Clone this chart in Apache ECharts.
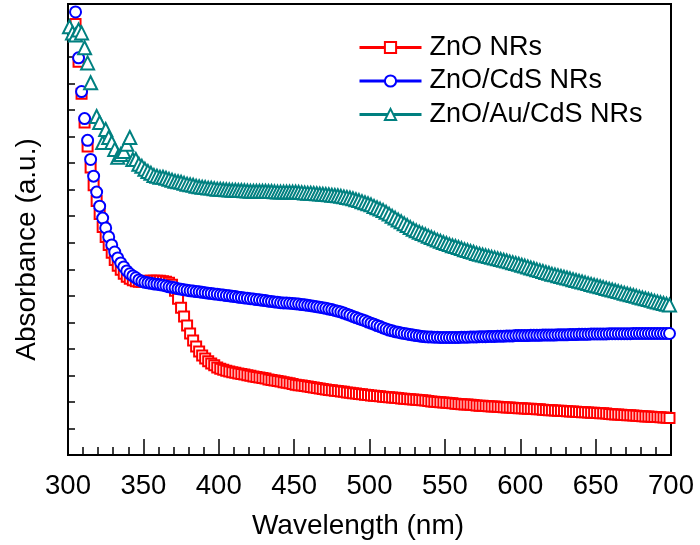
<!DOCTYPE html>
<html>
<head>
<meta charset="utf-8">
<script src="https://cdn.jsdelivr.net/npm/echarts@6/dist/echarts.min.js"></script>
<style>
  html, body { margin: 0; padding: 0; background: #fff; }
  #chart { width: 700px; height: 545px; }
</style>
</head>
<body>
<div id="chart"></div>
<script>
// wavelength grid (nm)
var wavelength = [
  301, 303, 305, 307, 309, 311, 313, 315, 317, 319,
  321, 323, 325, 327, 329, 331, 333, 335, 337, 339,
  341, 343, 345, 347, 349, 351, 353, 355, 357, 359,
  361, 363, 365, 367, 369, 371, 373, 375, 377, 379,
  381, 383, 385, 387, 389, 391, 393, 395, 397, 399,
  401, 403, 405, 407, 409, 411, 413, 415, 417, 419,
  421, 423, 425, 427, 429, 431, 433, 435, 437, 439,
  441, 443, 445, 447, 449, 451, 453, 455, 457, 459,
  461, 463, 465, 467, 469, 471, 473, 475, 477, 479,
  481, 483, 485, 487, 489, 491, 493, 495, 497, 499,
  501, 503, 505, 507, 509, 511, 513, 515, 517, 519,
  521, 523, 525, 527, 529, 531, 533, 535, 537, 539,
  541, 543, 545, 547, 549, 551, 553, 555, 557, 559,
  561, 563, 565, 567, 569, 571, 573, 575, 577, 579,
  581, 583, 585, 587, 589, 591, 593, 595, 597, 599,
  601, 603, 605, 607, 609, 611, 613, 615, 617, 619,
  621, 623, 625, 627, 629, 631, 633, 635, 637, 639,
  641, 643, 645, 647, 649, 651, 653, 655, 657, 659,
  661, 663, 665, 667, 669, 671, 673, 675, 677, 679,
  681, 683, 685, 687, 689, 691, 693, 695, 697, 699
];

// ZnO NRs
var znoAbs = [
  null, null, 1.625, 1.482, 1.362, 1.253, 1.163, 1.084, 1.017, 0.957,
  0.908, 0.859, 0.822, 0.792, 0.762, 0.735, 0.713, 0.698, 0.683, 0.672,
  0.664, 0.659, 0.655, 0.653, 0.653, 0.655, 0.657, 0.657, 0.657, 0.657,
  0.657, 0.655, 0.653, 0.649, 0.642, 0.619, 0.589, 0.555, 0.522, 0.488,
  0.458, 0.432, 0.409, 0.390, 0.375, 0.364, 0.353, 0.345, 0.338, 0.330,
  0.325, 0.321, 0.318, 0.315, 0.312, 0.310, 0.307, 0.305, 0.303, 0.301,
  0.299, 0.296, 0.294, 0.292, 0.290, 0.288, 0.285, 0.283, 0.281, 0.279,
  0.277, 0.274, 0.272, 0.270, 0.268, 0.265, 0.263, 0.262, 0.260, 0.258,
  0.256, 0.254, 0.253, 0.251, 0.249, 0.247, 0.245, 0.244, 0.242, 0.241,
  0.239, 0.238, 0.236, 0.235, 0.233, 0.232, 0.230, 0.229, 0.227, 0.226,
  0.224, 0.223, 0.222, 0.221, 0.220, 0.219, 0.218, 0.217, 0.216, 0.215,
  0.213, 0.212, 0.211, 0.210, 0.209, 0.208, 0.207, 0.206, 0.205, 0.204,
  0.202, 0.201, 0.200, 0.199, 0.198, 0.197, 0.196, 0.195, 0.193, 0.192,
  0.191, 0.190, 0.190, 0.189, 0.188, 0.187, 0.186, 0.186, 0.185, 0.184,
  0.183, 0.183, 0.182, 0.181, 0.180, 0.179, 0.179, 0.178, 0.177, 0.176,
  0.176, 0.175, 0.174, 0.174, 0.173, 0.172, 0.172, 0.171, 0.170, 0.169,
  0.169, 0.168, 0.167, 0.167, 0.166, 0.165, 0.164, 0.164, 0.163, 0.162,
  0.161, 0.161, 0.160, 0.159, 0.159, 0.158, 0.157, 0.157, 0.156, 0.155,
  0.154, 0.153, 0.153, 0.152, 0.151, 0.150, 0.150, 0.149, 0.148, 0.147,
  0.146, 0.145, 0.145, 0.144, 0.143, 0.143, 0.142, 0.141, 0.140, 0.139
];

// ZnO/CdS NRs
var znoCdsAbs = [
  null, null, 1.670, 1.497, 1.370, 1.268, 1.186, 1.114, 1.051, 0.991,
  0.938, 0.893, 0.856, 0.822, 0.792, 0.765, 0.743, 0.724, 0.709, 0.694,
  0.683, 0.675, 0.668, 0.660, 0.655, 0.651, 0.649, 0.647, 0.645, 0.644,
  0.642, 0.640, 0.637, 0.634, 0.632, 0.630, 0.627, 0.625, 0.623, 0.621,
  0.619, 0.618, 0.616, 0.615, 0.613, 0.612, 0.610, 0.609, 0.607, 0.606,
  0.604, 0.603, 0.601, 0.600, 0.598, 0.597, 0.595, 0.594, 0.592, 0.591,
  0.589, 0.588, 0.586, 0.585, 0.583, 0.582, 0.580, 0.579, 0.577, 0.576,
  0.574, 0.573, 0.573, 0.572, 0.571, 0.570, 0.569, 0.567, 0.566, 0.564,
  0.563, 0.561, 0.559, 0.557, 0.555, 0.553, 0.550, 0.548, 0.545, 0.542,
  0.539, 0.535, 0.531, 0.527, 0.522, 0.518, 0.514, 0.510, 0.506, 0.501,
  0.497, 0.493, 0.488, 0.484, 0.479, 0.475, 0.471, 0.468, 0.465, 0.463,
  0.460, 0.458, 0.456, 0.454, 0.452, 0.450, 0.449, 0.447, 0.446, 0.445,
  0.445, 0.444, 0.444, 0.443, 0.443, 0.443, 0.443, 0.443, 0.443, 0.443,
  0.444, 0.444, 0.444, 0.445, 0.445, 0.445, 0.446, 0.446, 0.446, 0.447,
  0.447, 0.447, 0.448, 0.448, 0.448, 0.449, 0.449, 0.449, 0.450, 0.450,
  0.450, 0.450, 0.450, 0.451, 0.451, 0.451, 0.451, 0.452, 0.452, 0.452,
  0.452, 0.452, 0.453, 0.453, 0.453, 0.453, 0.454, 0.454, 0.454, 0.455,
  0.455, 0.455, 0.455, 0.456, 0.456, 0.456, 0.456, 0.456, 0.456, 0.457,
  0.457, 0.457, 0.457, 0.457, 0.457, 0.457, 0.457, 0.458, 0.458, 0.458,
  0.458, 0.458, 0.458, 0.458, 0.458, 0.458, 0.458, 0.458, 0.458, 0.458
];

// ZnO/Au/CdS NRs
var znoAuCdsAbs = [
  1.614, 1.591, 1.583, 1.602, 1.591, 1.535, 1.478, 1.403, null, 1.276,
  1.253, 1.178, 1.227, 1.197, 1.178, 1.152, 1.122, 1.133, 1.144, 1.171,
  1.197, 1.114, 1.114, 1.096, 1.088, 1.077, 1.069, 1.062, 1.054, 1.051,
  1.047, 1.047, 1.043, 1.039, 1.036, 1.032, 1.030, 1.028, 1.024, 1.021,
  1.019, 1.017, 1.013, 1.011, 1.009, 1.008, 1.006, 1.006, 1.004, 1.002,
  1.002, 1.001, 1.000, 0.999, 0.998, 0.998, 0.997, 0.997, 0.996, 0.995,
  0.994, 0.994, 0.994, 0.994, 0.994, 0.994, 0.993, 0.993, 0.992, 0.991,
  0.991, 0.991, 0.991, 0.991, 0.991, 0.991, 0.990, 0.989, 0.988, 0.987,
  0.987, 0.986, 0.985, 0.984, 0.983, 0.982, 0.981, 0.979, 0.978, 0.977,
  0.975, 0.973, 0.971, 0.969, 0.966, 0.962, 0.959, 0.955, 0.951, 0.947,
  0.943, 0.937, 0.932, 0.927, 0.922, 0.915, 0.908, 0.900, 0.893, 0.886,
  0.879, 0.872, 0.865, 0.858, 0.851, 0.845, 0.840, 0.835, 0.830, 0.825,
  0.820, 0.815, 0.810, 0.806, 0.801, 0.797, 0.793, 0.789, 0.786, 0.782,
  0.778, 0.774, 0.771, 0.767, 0.764, 0.760, 0.757, 0.754, 0.751, 0.748,
  0.745, 0.743, 0.740, 0.737, 0.734, 0.731, 0.728, 0.725, 0.722, 0.719,
  0.715, 0.712, 0.709, 0.705, 0.702, 0.698, 0.695, 0.692, 0.688, 0.685,
  0.681, 0.679, 0.676, 0.673, 0.670, 0.667, 0.664, 0.661, 0.658, 0.655,
  0.652, 0.649, 0.646, 0.643, 0.640, 0.637, 0.634, 0.631, 0.628, 0.625,
  0.622, 0.619, 0.616, 0.613, 0.610, 0.607, 0.604, 0.601, 0.598, 0.595,
  0.592, 0.589, 0.586, 0.583, 0.580, 0.577, 0.574, 0.571, 0.568, 0.565
];

var seriesNames = ["ZnO NRs", "ZnO/CdS NRs", "ZnO/Au/CdS NRs"];
var seriesColors = ["#ff0000", "#0000ff", "#008080"];
var seriesSymbols = ["emptyRect", "emptyCircle", "emptyTriangle"];
var seriesSizes = [10, 11, 13];
var seriesValues = [znoAbs, znoCdsAbs, znoAuCdsAbs];

var font = "'Liberation Sans', Arial, Helvetica, sans-serif";

function pairs(values) {
  return wavelength.map(function (w, i) {
    return [w, values[i]];
  });
}

var chart = echarts.init(document.getElementById("chart"), null, { renderer: "canvas" });

var option = {
  backgroundColor: "#fff",
  animation: false,
  grid: {
    left: 68,
    right: 29,
    top: 4,
    bottom: 88,
    show: true,
    borderColor: "#000",
    borderWidth: 2
  },
  legend: {
    orient: "vertical",
    left: 358,
    top: 34,
    padding: 0,
    itemWidth: 62,
    itemHeight: 14,
    itemGap: 6.5,
    data: seriesNames,
    lineStyle: { width: 3, opacity: 1 },
    textStyle: {
      fontSize: 27,
      color: "#000",
      fontFamily: font,
      padding: [0, 0, 0, 3]
    }
  },
  xAxis: {
    type: "value",
    min: 300,
    max: 700,
    interval: 50,
    name: "Wavelength (nm)",
    nameLocation: "middle",
    nameGap: 57,
    nameTextStyle: {
      fontSize: 28,
      color: "#000",
      fontFamily: font,
      padding: [0, 23, 0, 0]
    },
    axisLine: { lineStyle: { color: "#000", width: 2 } },
    axisTick: { inside: true, length: 16, lineStyle: { color: "#000", width: 1.5 } },
    minorTick: { show: true, splitNumber: 5, length: 8, lineStyle: { color: "#000", width: 1.5 } },
    axisLabel: { fontSize: 27.5, color: "#000", fontFamily: font, margin: 17 },
    splitLine: { show: false }
  },
  yAxis: {
    type: "value",
    min: 0,
    max: 1.7,
    interval: 0.1,
    name: "Absorbance (a.u.)",
    nameLocation: "middle",
    nameGap: 27,
    nameTextStyle: {
      fontSize: 28,
      color: "#000",
      fontFamily: font,
      padding: [0, 40, 0, 0]
    },
    axisLine: { lineStyle: { color: "#000", width: 2 } },
    axisTick: { inside: true, length: 7, lineStyle: { color: "#000", width: 1.5 } },
    axisLabel: { show: false },
    splitLine: { show: false }
  },
  series: seriesNames.map(function (name, k) {
    return {
      name: name,
      type: "line",
      data: pairs(seriesValues[k]),
      symbol: seriesSymbols[k],
      symbolSize: seriesSizes[k],
      showSymbol: true,
      connectNulls: false,
      lineStyle: { color: seriesColors[k], width: 2, opacity: 0 },
      itemStyle: { color: seriesColors[k], borderWidth: 3 },
      emphasis: { disabled: true }
    };
  })
};

chart.setOption(option);
</script>
</body>
</html>
